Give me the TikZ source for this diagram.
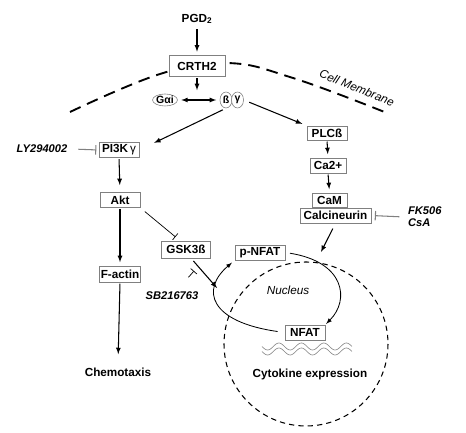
\documentclass[tikz,border=0pt]{standalone}
\usepackage{fontspec}
\setmainfont{Liberation Sans}
\usetikzlibrary{arrows,arrows.meta,shapes}

\begin{document}
\begin{tikzpicture}[x=.03cm, y=-.03cm, >=latex, font=\fontsize{10}{12}\selectfont]
		\useasboundingbox (0,0) rectangle (466,433);
		\tikzstyle{box} = [draw=gray, fill=white, line width=.6pt, inner sep=0pt, font=\fontsize{10}{12}\selectfont\bfseries, minimum height=.45cm]
		\tikzstyle{sub} = [ellipse, draw=gray, fill=white, line width=.5pt, inner sep=0pt, font=\fontsize{9}{11}\selectfont\bfseries]
		\tikzstyle{drug} = [font=\fontsize{9.5}{11}\selectfont\bfseries\itshape]
		\tikzstyle{act} = [->, line width=.9pt, shorten >=3pt, shorten <=1pt]
		\tikzstyle{inh} = [-{Bar[width=8pt]}, line width=.9pt, gray]
		\tikzstyle{memb} = [line width=1.6pt, dash pattern=on 10pt off 6pt]

		% cell membrane
		\draw [memb] plot [smooth, tension=.7] coordinates {(70,112) (160,74) (227,63) (293,78) (387,113)};
		\node [rotate=-22, font=\fontsize{10}{12}\selectfont\itshape] (membrane) at (357,88) {Cell Membrane};

		% nucleus
		\draw [line width=.9pt, dash pattern=on 4.5pt off 3.5pt] (306,344) circle [radius=82];
		\node [font=\fontsize{10}{12}\selectfont\itshape] (nucleus) at (288,290) {Nucleus};

		\node [font=\fontsize{10}{12}\selectfont\bfseries] (pgd) at (197,19) {PGD$_\mathbf{2}$};
		\node [box, minimum width=1.68cm, minimum height=.63cm] (crth2) at (197,66) {CRTH2};
		\node [sub, minimum width=.72cm, minimum height=.36cm] (gai) at (165,100) {Gαi};
		\node [sub, minimum width=.36cm, minimum height=.48cm] (b) at (226,100) {ß};
		\node [sub, minimum width=.36cm, minimum height=.48cm] (g) at (237.5,100) {γ};

		% left branch
		\node [box, minimum width=1.2cm] (pi3k) at (119,150) {PI3K\,\mdseries γ};
		\node [drug] (ly) at (42,149) {LY294002};
		\node [box, minimum width=1.2cm] (akt) at (120,200) {Akt};
		\node [box, minimum width=1.23cm, minimum height=.48cm] (factin) at (120,274) {F-actin};
		\node [font=\fontsize{10}{12}\selectfont\bfseries] (chemo) at (118,372) {Chemotaxis};
		\node [box, minimum width=1.47cm, minimum height=.51cm] (gsk) at (186,249.5) {GSK3ß};
		\node [drug] (sb) at (172,296) {SB216763};

		% right branch
		\node [box, minimum width=1.2cm, minimum height=.42cm] (plc) at (327,133) {PLCß};
		\node [box, minimum width=1.08cm] (ca) at (328,165.5) {Ca2+};
		\node [box, minimum width=1.05cm, minimum height=.42cm] (cam) at (329.5,200) {CaM};
		\node [box, minimum width=2.13cm] (calc) at (335.5,215.5) {Calcineurin};
		\node [drug, anchor=west, align=left, font=\fontsize{9.5}{10.5}\selectfont\bfseries\itshape] (fk) at (404,217) {FK506\\CsA};
		\node [box, minimum width=1.5cm] (pnfat) at (260,252.5) {p-NFAT};
		\node [box, minimum width=1.2cm] (nfat) at (305,332.5) {NFAT};
		\node [font=\fontsize{10}{12}\selectfont\bfseries] (cyto) at (310,374) {Cytokine expression};

		\coordinate (gtarget) at (217,288);
		\coordinate (ntarget) at (321,252);
		\coordinate (sbbar) at (194,271);

		% dna
		\draw [gray, line width=.5pt] plot [domain=262:352, samples=90] (\x, {346.5+3.5*sin((\x-262)*16)});
		\draw [gray, line width=.5pt] plot [domain=262:352, samples=90] (\x, {351.5+3.5*sin((\x-262)*16)});

		\draw [act] (pgd.south) -- (crth2.north);
		\draw [act] (crth2.south) -- (crth2.south |- gai.north);
		\draw [act, <->, shorten <=3pt] (gai.east) -- (b.west);
		\draw [act, shorten <=3pt, shorten >=14pt] (b.south) -- (pi3k.east);
		\draw [act, shorten <=5pt, shorten >=4pt] (g.east) -- (plc.north west);
		\draw [inh, shorten <=6pt, shorten >=2pt] (ly.east) -- (pi3k.west);
		\draw [act, shorten >=6pt] (pi3k.south) -- (akt.north);
		\draw [act] (akt.south) -- (factin.north);
		\draw [act, shorten >=8pt] (factin.south) -- (chemo.north);
		\draw [inh, black, line width=.6pt, -{Bar[width=7pt]}, shorten <=5pt, shorten >=5pt] (akt.south east) -- ([xshift=-.18cm]gsk.north);
		\draw [act, shorten <=3pt, shorten >=0pt] (gsk.-60) -- (gtarget);
		\draw [inh, black, line width=.6pt, -{Bar[width=7pt]}, shorten <=12pt] (sb) -- (sbbar);
		\draw [act] (plc.south) -- (ca.north);
		\draw [act] (ca.south) -- (cam.north);
		\draw [inh, shorten <=4pt, shorten >=3pt] (fk.west) -- (calc.east);
		\draw [act, shorten <=5pt, shorten >=0pt] (calc.south) -- (ntarget);
		\draw [act, line width=.7pt, shorten <=4pt, shorten >=1pt] (pnfat.east) .. controls (345,262) and (350,300) .. (nfat.north east);
		\draw [act, line width=.7pt, shorten <=6pt, shorten >=3pt] (nfat.west) .. controls (210,322) and (200,290) .. (pnfat.south west);
\end{tikzpicture}
\end{document}
